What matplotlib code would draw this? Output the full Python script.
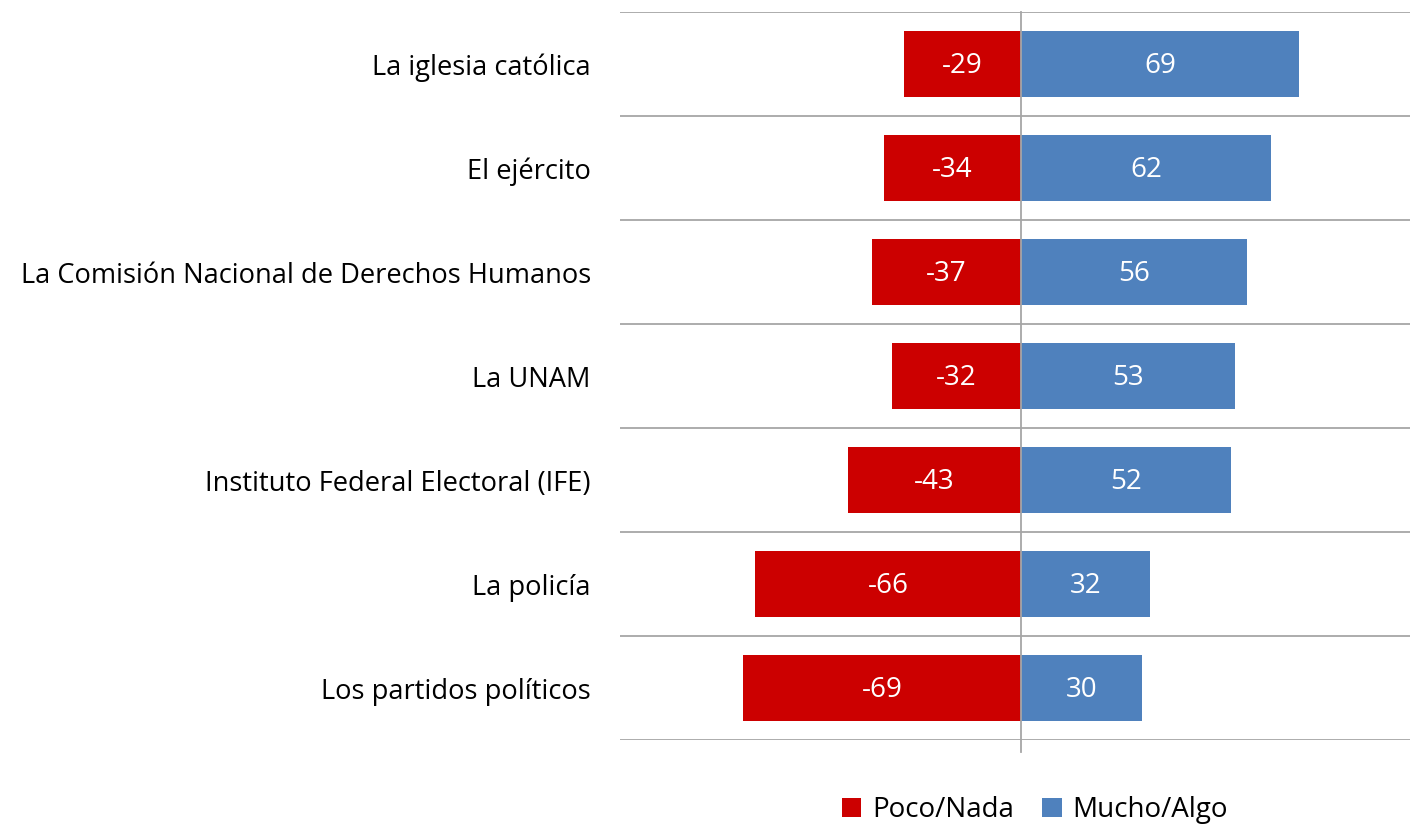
import matplotlib.pyplot as plt
import numpy as np

# datos
categorias = ["La iglesia católica", "El ejército",
              "La Comisión Nacional de Derechos Humanos", "La UNAM",
              "Instituto Federal Electoral (IFE)", "La policía",
              "Los partidos políticos"]
poco_nada = [-29, -34, -37, -32, -43, -66, -69]
mucho_algo = [69, 62, 56, 53, 52, 32, 30]

rojo = "#CC0000"
azul = "#4F81BD"
gris = "#A6A6A6"

plt.rcParams['font.family'] = ['Open Sans', 'DejaVu Sans']

fig = plt.figure(figsize=(14.1, 8.26), dpi=100)
# axes: x 620..1410 px, y 12..740 px
ax = fig.add_axes([620 / 1410, 1 - 740 / 826, 790 / 1410, 728 / 826])

y = np.arange(len(categorias))
ax.barh(y, poco_nada, height=0.63, color=rojo, label="Poco/Nada", zorder=3)
ax.barh(y, mucho_algo, height=0.63, color=azul, label="Mucho/Algo", zorder=3)

for i in range(len(categorias)):
    ax.text(poco_nada[i] / 2, y[i] + 0.02, str(poco_nada[i]), ha='center', va='center',
            color='white', fontsize=20, zorder=4)
    ax.text(mucho_algo[i] / 2, y[i] + 0.02, str(mucho_algo[i]), ha='center', va='center',
            color='white', fontsize=20, zorder=4)

ax.set_xlim(-99.5, 96.5)
ax.set_ylim(len(categorias) - 0.5, -0.5)

# lineas horizontales entre categorias
for b in np.arange(-0.5, len(categorias) + 0.5, 1):
    ax.axhline(b, color=gris, lw=1.3, zorder=1)
ax.plot([0, 0], [-0.5, len(categorias) - 0.38], color=gris, lw=1.3,
        zorder=5, clip_on=False)

ax.set_yticks(y)
ax.set_yticklabels(categorias, fontsize=19.6)
ax.tick_params(axis='y', length=0, pad=21)
ax.set_xticks([])
for s in ax.spines.values():
    s.set_visible(False)

fig.legend(loc='center', bbox_to_anchor=(1035 / 1410, 1 - 810 / 826), ncol=2,
           frameon=False, fontsize=20, handlelength=0.7, handleheight=0.7,
           handletextpad=0.4, columnspacing=1.0)

fig.savefig("out.png", dpi=100)
